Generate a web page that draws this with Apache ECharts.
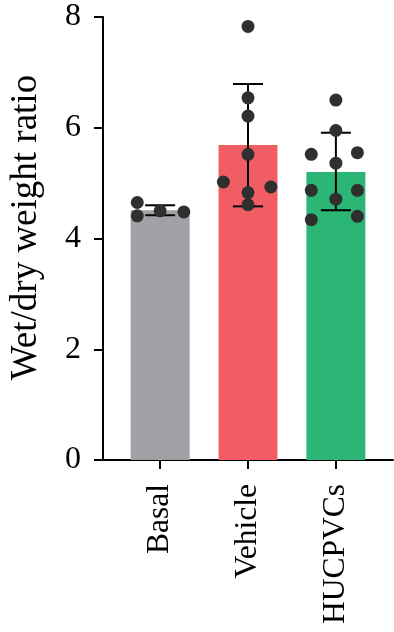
<!DOCTYPE html>
<html>
<head>
<meta charset="utf-8">
<script src="https://cdn.jsdelivr.net/npm/echarts@6/dist/echarts.min.js"></script>
<style>
html,body{margin:0;padding:0;background:#fff;}
#chart{width:394px;height:632px;}
</style>
</head>
<body>
<div id="chart"></div>
<script>
// ---- data ----
const categories = ['Basal', 'Vehicle', 'HUCPVCs'];
const means = [4.51, 5.69, 5.20];
const errLow = [4.42, 4.58, 4.51];
const errHigh = [4.60, 6.79, 5.91];
const yTicks = [0, 2, 4, 6, 8];

const basalPts = [4.65, 4.41, 4.50, 4.48];
const basalJitter = [-0.26, -0.26, 0, 0.27];
const vehiclePts = [7.83, 6.54, 6.21, 5.52, 5.02, 4.93, 4.83, 4.61];
const vehicleJitter = [0, 0, 0, 0, -0.28, 0.26, 0, 0];
const hucPts = [6.50, 5.95, 5.52, 5.55, 5.36, 4.87, 4.87, 4.71, 4.34, 4.40];
const hucJitter = [0, 0, -0.28, 0.245, 0, -0.28, 0.245, 0, -0.28, 0.245];

const barColors = ['#a0a1a5', '#f05e64', '#2cb675'];

// ---- build ----
const groups = [[basalPts, basalJitter], [vehiclePts, vehicleJitter], [hucPts, hucJitter]];
const scatterData = [];
groups.forEach(function (g, i) {
  g[0].forEach(function (v, j) { scatterData.push([i + g[1][j], v]); });
});

const serif = 'Liberation Serif';
const chart = echarts.init(document.getElementById('chart'), null, {renderer: 'canvas'});
chart.setOption({
  animation: false,
  grid: {left: 97, right: 1, top: 17, bottom: 172, containLabel: false},
  xAxis: {
    type: 'value', min: -0.65, max: 2.65,
    splitLine: {show: false},
    axisLine: {show: true, onZero: false, lineStyle: {color: '#000', width: 2}},
    axisTick: {show: true, length: 9, lineStyle: {color: '#000', width: 2}, customValues: [0, 1, 2]},
    axisLabel: {
      customValues: [0, 1, 2], rotate: 90, margin: 24,
      formatter: function (v) { return categories[Math.round(v)]; },
      color: '#000', fontFamily: serif, fontSize: 31.5
    }
  },
  yAxis: {
    type: 'value', min: yTicks[0], max: yTicks[yTicks.length - 1], interval: 2,
    name: 'Wet/dry weight ratio', nameLocation: 'middle', nameGap: 58,
    nameTextStyle: {color: '#000', fontFamily: serif, fontSize: 37, padding: [0, 0, 0, 22]},
    splitLine: {show: false},
    axisLine: {show: true, onZero: false, lineStyle: {color: '#000', width: 2}},
    axisTick: {show: true, length: 9, lineStyle: {color: '#000', width: 2}},
    axisLabel: {color: '#000', fontFamily: serif, fontSize: 32, margin: 22}
  },
  series: [
    {
      type: 'bar', barWidth: 59, z: 1,
      data: means.map(function (m, i) {
        return {value: [i, m], itemStyle: {color: barColors[i]}};
      })
    },
    {
      type: 'custom', z: 3,
      data: means.map(function (m, i) { return [i, errLow[i], errHigh[i]]; }),
      renderItem: function (params, api) {
        const x = api.value(0);
        const lo = api.coord([x, api.value(1)]);
        const hi = api.coord([x, api.value(2)]);
        const hw = 15;
        const st = {stroke: '#000', lineWidth: 2};
        return {
          type: 'group',
          children: [
            {type: 'line', shape: {x1: lo[0], y1: lo[1], x2: hi[0], y2: hi[1]}, style: st},
            {type: 'line', shape: {x1: lo[0] - hw, y1: lo[1], x2: lo[0] + hw, y2: lo[1]}, style: st},
            {type: 'line', shape: {x1: hi[0] - hw, y1: hi[1], x2: hi[0] + hw, y2: hi[1]}, style: st}
          ]
        };
      }
    },
    {
      type: 'scatter', z: 5, symbolSize: 13,
      itemStyle: {color: '#2f2f2f', opacity: 1},
      data: scatterData
    }
  ]
});
</script>
</body>
</html>
